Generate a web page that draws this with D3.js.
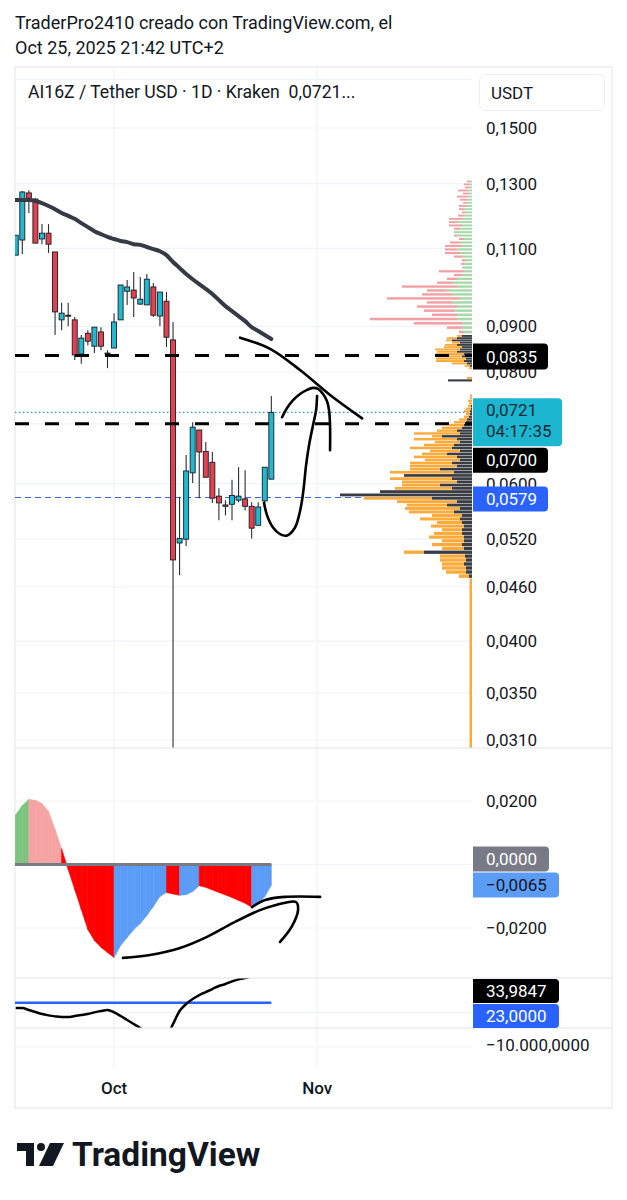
<!DOCTYPE html>
<html><head><meta charset="utf-8">
<script src="https://cdn.jsdelivr.net/npm/d3@7"></script>
<style>
body{margin:0;background:#fff;}
svg text{font-family:Roboto,"Noto Sans",sans-serif;}
</style></head><body>
<svg id="c" width="627" height="1200"></svg>
<script>
// ---------------- DATA ----------------
const dates = ["09-16","09-17","09-18","09-19","09-20","09-21","09-22","09-23","09-24","09-25",
"09-26","09-27","09-28","09-29","09-30","10-01","10-02","10-03","10-04","10-05",
"10-06","10-07","10-08","10-09","10-10","10-11","10-12","10-13","10-14","10-15",
"10-16","10-17","10-18","10-19","10-20","10-21","10-22","10-23","10-24","10-25"];
const openP  = [0.1081,0.1124,0.1269,0.1249,0.1127,0.1144,0.1090,0.0915,0.0926,0.0915,
0.0838,0.0884,0.0855,0.0887,0.0840,0.0851,0.0915,0.0985,0.0988,0.0953,
0.0951,0.0996,0.0924,0.0960,0.0869,0.0515,0.0520,0.0617,0.0689,0.0652,
0.0634,0.0581,0.0568,0.0569,0.0575,0.0577,0.0566,0.0539,0.0574,0.0607];
const highP  = [0.1138,0.1275,0.1278,0.1252,0.1171,0.1171,0.1090,0.0956,0.0956,0.0922,
0.0880,0.0891,0.0898,0.0898,0.0846,0.0931,0.1001,0.1014,0.1035,0.1022,
0.1030,0.1006,0.0983,0.0983,0.0910,0.0580,0.0646,0.0703,0.0689,0.0668,
0.0651,0.0593,0.0575,0.0606,0.0626,0.0621,0.0572,0.0572,0.0626,0.0752];
const lowP   = [0.1081,0.1084,0.1205,0.1115,0.1112,0.1087,0.0880,0.0891,0.0900,0.0825,
0.0817,0.0857,0.0840,0.0846,0.0808,0.0851,0.0915,0.0951,0.0922,0.0951,
0.0951,0.0922,0.0900,0.0853,0.0290,0.0474,0.0511,0.0601,0.0578,0.0610,
0.0571,0.0546,0.0553,0.0546,0.0572,0.0560,0.0521,0.0539,0.0570,0.0607];
const closeP = [0.1138,0.1272,0.1252,0.1115,0.1144,0.1112,0.0934,0.0931,0.0924,0.0836,
0.0873,0.0866,0.0898,0.0855,0.0838,0.0910,0.1001,0.0996,0.0968,0.0965,
0.1016,0.0926,0.0983,0.0875,0.0493,0.0521,0.0620,0.0694,0.0651,0.0610,
0.0578,0.0571,0.0566,0.0582,0.0581,0.0566,0.0535,0.0565,0.0626,0.0721];
const maLine = [0.1246,0.1246,0.1246,0.1243,0.1236,0.1227,0.1217,0.1205,0.1196,0.1187,
0.1174,0.1162,0.1150,0.1141,0.1133,0.1127,0.1121,0.1118,0.1112,0.1110,
0.1104,0.1098,0.1092,0.1081,0.1062,0.1046,0.1030,0.1016,0.1003,0.0991,
0.0978,0.0963,0.0948,0.0936,0.0924,0.0912,0.0898,0.0889,0.0880,0.0871];
const macdHist = [0.0157,0.0186,0.0205,0.0202,0.0192,0.0167,0.0110,0.0050,-0.0016,-0.0079,
-0.0142,-0.0205,-0.0239,-0.0261,-0.0277,-0.0293,-0.0255,-0.0230,-0.0205,-0.0186,
-0.0161,-0.0132,-0.0101,-0.0088,-0.0093,-0.0097,-0.0095,-0.0085,-0.0067,-0.0072,
-0.0080,-0.0088,-0.0096,-0.0104,-0.0113,-0.0122,-0.0135,-0.0123,-0.0101,-0.0065];
const oscLine = [21.4,21.4,20.8,20.2,19.6,19.2,18.9,18.7,18.7,19.0,
19.3,19.6,20.1,20.5,20.8,20.1,19.0,17.8,16.6,15.4,
14.0,13.0,12.5,13.0,16.6,20.5,22.6,24.1,25.3,26.2,
27.1,28.0,28.6,29.4,30.0,30.4,31.0,31.8,32.8,33.9847];
const oscLevel = 23;

const priceTicks = [0.17,0.15,0.13,0.11,0.09,0.08,0.07,0.06,0.052,0.046,0.04,0.035,0.031];
const hiddenPriceTicks = [0.17,0.07];
const macdTicks = [0.02,0,-0.02];
const hiddenMacdTicks = [0];
const oscTicks = [20];
const lowerTicks = [-10000];
const timeTicks = ["2025-10-01","2025-11-01"];
const timeLabels = ["Oct","Nov"];

const levelLines = [0.0835,0.0700];
const alertLevel = 0.0579;
const lastPrice = 0.0721;
const countdown = "04:17:35";
const macdLast = -0.0065;

// volume profile: value area rows (step 0.0005 from 0.047) -> [dark, orange]
const vpLowStart = 0.047, vpLowStep = 0.0005;
const vpDark = [3,6,6,8,6,7,48,8,10,8,8,10,10,8,10,12,10,18,12,25,15,40,132,92,20,32,15,20,68,18,32,15,20,12,15,25,12,20,18,12,15,30,12,15,10,8,6,5,3,2,2,1,1,0,0,0,0,0,0,0,0,0,24,0,0,0,0,0,2,5,8,6,10,8,15,12,10,15,12,20,15,10];
const vpOrange = [10,20,24,22,26,25,20,22,30,22,35,28,20,33,25,40,30,45,55,40,60,68,0,0,57,38,55,62,0,64,30,47,42,35,43,25,30,42,30,25,43,10,46,20,20,15,12,8,5,4,6,5,3,3,4,2,2,0,0,0,0,0,0,5,0,0,0,3,5,15,28,30,24,28,20,25,18,12,8,6,10,5];
// upper rows (step 0.001 from 0.088) -> [green, pink]
const vpHighStart = 0.088, vpHighStep = 0.001;
const vpGreen = [8,10,10,15,15,18,15,20,12,20,25,15,20,15,10,8,10,8,6,10,12,15,10,12,8,15,18,12,10,15,10,8,6,8,5,6,4,5,3,4,3,2,2];
const vpPink  = [5,15,48,87,25,30,40,25,73,30,20,55,15,10,8,25,0,3,4,8,15,12,17,10,5,3,0,6,13,8,13,6,4,5,8,3,8,10,6,10,4,6,3];
const vpTail = [[0.0285,0.047,2.5]];

// hand drawings: [days after Oct 1, value]
const drawResist = [[19.23,0.0874],[23.81,0.0849],[28.38,0.0804],[32.96,0.0754],[37.85,0.0710]];
const drawArc = [[25.64,0.0712],[26.40,0.0729],[27.32,0.0744],[28.38,0.0756],[29.45,0.0764],[30.37,0.0768],[31.13,0.0766],[31.89,0.0756],[32.50,0.0742],[32.81,0.0725],[32.96,0.0698],[32.96,0.0654]];
const drawLoop = [[30.98,0.0752],[30.83,0.0725],[30.37,0.0698],[29.76,0.0663],[29.30,0.0629],[28.99,0.0598],[28.69,0.0575],[28.23,0.0553],[27.62,0.0536],[26.40,0.0525],[25.33,0.0527],[24.26,0.0536],[23.35,0.0553],[22.89,0.0571]];
const drawMacdA = [[1.37,-0.0294],[5.49,-0.0285],[10.07,-0.0263],[14.19,-0.0228],[18.16,-0.0184],[21.97,-0.0146],[24.57,-0.0128],[27.77,-0.0118],[28.08,-0.0143],[27.16,-0.0194],[25.33,-0.0244]];
const drawMacdB = [[21.06,-0.0134],[23.04,-0.0112],[26.10,-0.0102],[31.44,-0.0102]];

// ---------------- LAYOUT ----------------
const svg = d3.select("#c");
const L = 15, R = 612, PR = 472, TOP = 67, BOT = 1108;
const P1 = [67,748], P2 = [748,978], P3 = [978,1028], P4 = [1028,1067];
const C = {text:"#131722", grid:"#f0f3fa", border:"#e0e3eb", up:"#22b8cf", down:"#e5404f"};

const parse = s => new Date("2025-" + s + "T00:00:00Z");
const D = dates.map(parse);
const oct1 = Date.UTC(2025,9,1);
const dayD = d => new Date(oct1 + d*86400000);

const x = d3.scaleUtc().domain([Date.UTC(2025,8,16), Date.UTC(2025,10,1)]).range([15.75, 317.2]);
const y = d3.scaleLog().domain([0.15,0.031]).range([128,740]);
const ym = d3.scaleLinear().domain([0.02,-0.02]).range([801,928]);
const yo = d3.scaleLinear().domain([23,20]).range([1002.7,1012.7]);
const yl = d3.scaleLinear().domain([0,-10000]).range([1037,1047]);

const fmt4 = v => d3.format(".4f")(v).replace(".",",").replace("-","\u2212");

// clips
const defs = svg.append("defs");
[["c1",P1],["c2",P2],["c3",P3],["c4",P4]].forEach(([id,p])=>{
  defs.append("clipPath").attr("id",id).append("rect").attr("x",L).attr("y",p[0]).attr("width",PR-L).attr("height",p[1]-p[0]);
});

// header
svg.append("text").attr("x",15).attr("y",29).attr("font-size",18).attr("fill",C.text).text("TraderPro2410 creado con TradingView.com, el");
svg.append("text").attr("x",15).attr("y",54).attr("font-size",18).attr("fill",C.text).text("Oct 25, 2025 21:42 UTC+2");

// frame
svg.append("rect").attr("x",L).attr("y",TOP).attr("width",R-L).attr("height",BOT-TOP).attr("fill","none").attr("stroke",C.border);

// vertical grid
timeTicks.forEach(t=>{
  const xv = x(new Date(t+"T00:00:00Z"));
  svg.append("line").attr("x1",xv).attr("x2",xv).attr("y1",TOP).attr("y2",P4[1]).attr("stroke",C.grid).attr("stroke-width",1.2);
});
// horizontal grids
const g1 = svg.append("g").attr("clip-path","url(#c1)");
priceTicks.forEach(t=>g1.append("line").attr("x1",L).attr("x2",PR).attr("y1",y(t)).attr("y2",y(t)).attr("stroke",C.grid).attr("stroke-width",1.2));
const g2 = svg.append("g").attr("clip-path","url(#c2)");
macdTicks.forEach(t=>g2.append("line").attr("x1",L).attr("x2",PR).attr("y1",ym(t)).attr("y2",ym(t)).attr("stroke",C.grid).attr("stroke-width",1.2));
const g3 = svg.append("g").attr("clip-path","url(#c3)");
oscTicks.forEach(t=>g3.append("line").attr("x1",L).attr("x2",PR).attr("y1",yo(t)).attr("y2",yo(t)).attr("stroke",C.grid).attr("stroke-width",1.2));
lowerTicks.forEach(t=>svg.append("line").attr("x1",L).attr("x2",PR).attr("y1",yl(t)).attr("y2",yl(t)).attr("stroke",C.grid).attr("stroke-width",1.2));

// pane dividers
[P1[1],P2[1],P3[1]].forEach(v=>svg.append("line").attr("x1",L).attr("x2",R).attr("y1",v).attr("y2",v).attr("stroke",C.border).attr("stroke-width",1.2));

// ---- price pane ----
g1.append("line").attr("x1",L).attr("x2",PR).attr("y1",y(alertLevel)).attr("y2",y(alertLevel)).attr("stroke","#3f68de").attr("stroke-width",1.2).attr("stroke-dasharray","6,4");
g1.append("line").attr("x1",L).attr("x2",PR).attr("y1",y(lastPrice)).attr("y2",y(lastPrice)).attr("stroke","#1aa7c4").attr("stroke-width",1.2).attr("stroke-dasharray","1.5,2.5");

// volume profile
const vx = d3.scaleLinear().domain([0,132]).range([0,132]);
const vpG = g1.append("g");
vpDark.forEach((dv,i)=>{
  const lo = vpLowStart + i*vpLowStep, hi = lo + vpLowStep;
  const y0 = y(hi), h = (y(lo)-y(hi))*0.85;
  if(dv>0) vpG.append("rect").attr("x",PR-vx(dv)).attr("y",y0).attr("width",vx(dv)).attr("height",h).attr("fill","#3b3d45");
  if(vpOrange[i]>0) vpG.append("rect").attr("x",PR-vx(dv)-vx(vpOrange[i])).attr("y",y0).attr("width",vx(vpOrange[i])).attr("height",h).attr("fill","#fbab3c");
});
vpGreen.forEach((gv,i)=>{
  const lo = vpHighStart + i*vpHighStep, hi = lo + vpHighStep;
  const y0 = y(hi), h = (y(lo)-y(hi))*0.6;
  if(gv>0) vpG.append("rect").attr("x",PR-vx(gv)).attr("y",y0).attr("width",vx(gv)).attr("height",h).attr("fill","#a6d8a8");
  if(vpPink[i]>0) vpG.append("rect").attr("x",PR-vx(gv)-vx(vpPink[i])).attr("y",y0).attr("width",vx(vpPink[i])).attr("height",h).attr("fill","#f2a0a6");
});
vpTail.forEach(([lo,hi,v])=>vpG.append("rect").attr("x",PR-vx(v)).attr("y",y(hi)).attr("width",vx(v)).attr("height",y(lo)-y(hi)).attr("fill","#fbab3c"));

// candles
const cg = g1.append("g");
D.forEach((d,i)=>{
  const cx = x(d);
  const up = closeP[i] >= openP[i];
  cg.append("line").attr("x1",cx).attr("x2",cx).attr("y1",y(highP[i])).attr("y2",y(lowP[i])).attr("stroke","#2a2e39").attr("stroke-width",1.1);
  const t = y(Math.max(openP[i],closeP[i])), b = y(Math.min(openP[i],closeP[i]));
  cg.append("rect").attr("x",cx-2.5).attr("y",t).attr("width",5).attr("height",Math.max(1,b-t))
    .attr("fill",up?C.up:C.down).attr("stroke","#1b1d24").attr("stroke-width",0.9);
});

// level dashed lines
levelLines.forEach(v=>g1.append("line").attr("x1",L).attr("x2",PR).attr("y1",y(v)).attr("y2",y(v)).attr("stroke","#000").attr("stroke-width",3).attr("stroke-dasharray","14,16"));

// MA
g1.append("path").datum(maLine).attr("fill","none").attr("stroke","#363a45").attr("stroke-width",4).attr("stroke-linecap","round")
  .attr("d",d3.line().x((v,i)=>x(D[i])).y(v=>y(v)).curve(d3.curveMonotoneX));

// drawings (price pane)
const dl = d3.line().x(p=>x(dayD(p[0]))).y(p=>y(p[1])).curve(d3.curveCatmullRom);
[drawResist,drawArc,drawLoop].forEach(arr=>g1.append("path").datum(arr).attr("fill","none").attr("stroke","#000").attr("stroke-width",2.6).attr("stroke-linecap","round").attr("d",dl));

// ---- MACD pane ----
const colorOf = i => {
  const v = macdHist[i], p = i>0 ? macdHist[i-1] : -1;
  if(v>=0) return v>=p ? "#7cc47f" : "#f6a3a3";
  return v<p ? "#ff0000" : "#5b9cf6";
};
for(let i=1;i<macdHist.length;i++){
  const x0 = x(D[i-1]), x1 = x(D[i]);
  g2.append("path").attr("fill",colorOf(i)).attr("stroke",colorOf(i)).attr("stroke-width",0.6)
    .attr("d",`M${x0},${ym(0)}L${x0},${ym(macdHist[i-1])}L${x1},${ym(macdHist[i])}L${x1},${ym(0)}Z`);
}
g2.append("path").attr("fill",colorOf(1)).attr("d",`M${L},${ym(0)}L${L},${ym(macdHist[0])}L${x(D[0])},${ym(macdHist[0])}L${x(D[0])},${ym(0)}Z`);
g2.append("line").attr("x1",L).attr("x2",x(D[D.length-1])).attr("y1",ym(0)).attr("y2",ym(0)).attr("stroke","#787b86").attr("stroke-width",3);
const dm = d3.line().x(p=>x(dayD(p[0]))).y(p=>ym(p[1])).curve(d3.curveCatmullRom);
[drawMacdA,drawMacdB].forEach(arr=>g2.append("path").datum(arr).attr("fill","none").attr("stroke","#000").attr("stroke-width",2.6).attr("stroke-linecap","round").attr("d",dm));

// ---- osc pane ----
g3.append("line").attr("x1",L).attr("x2",x(D[D.length-1])).attr("y1",yo(oscLevel)).attr("y2",yo(oscLevel)).attr("stroke","#2962ff").attr("stroke-width",2.5);
g3.append("path").datum(oscLine).attr("fill","none").attr("stroke","#000").attr("stroke-width",2.5)
  .attr("d",d3.line().x((v,i)=>x(D[i])).y(v=>yo(v)).curve(d3.curveMonotoneX));

// ---- axes labels ----
const AX = 486;
priceTicks.filter(t=>!hiddenPriceTicks.includes(t)).forEach(t=>svg.append("text").attr("x",AX).attr("y",y(t)).attr("dy","0.36em").attr("font-size",17).attr("fill",C.text).text(fmt4(t)));
macdTicks.filter(t=>!hiddenMacdTicks.includes(t)).forEach(t=>svg.append("text").attr("x",AX).attr("y",ym(t)).attr("dy","0.36em").attr("font-size",17).attr("fill",C.text).text(fmt4(t)));
lowerTicks.forEach(t=>svg.append("text").attr("x",AX).attr("y",yl(t)-2).attr("dy","0.36em").attr("font-size",17).attr("fill",C.text).text("\u221210.000,0000"));

function tag(y0,h,w,fill,lines,tc){
  const g = svg.append("g");
  g.append("path").attr("fill",fill).attr("d",`M473,${y0}H${473+w-4}Q${473+w},${y0} ${473+w},${y0+4}V${y0+h-4}Q${473+w},${y0+h} ${473+w-4},${y0+h}H473Z`);
  lines.forEach((s,k)=>g.append("text").attr("x",AX).attr("y",y0+ (lines.length===1? h/2 : 12+k*21)).attr("dy","0.36em").attr("font-size",17).attr("fill",tc).text(s));
}
tag(y(levelLines[0])-12,26,75,"#000",[fmt4(levelLines[0])],"#fff");
tag(y(lastPrice)-14,48,89,"#1cb6d1",[fmt4(lastPrice),countdown],"#0f2a33");
tag(y(levelLines[1])+24,25,75,"#000",[fmt4(levelLines[1])],"#fff");
tag(y(alertLevel)-11,25,75,"#2962ff",[fmt4(alertLevel)],"#fff");
tag(ym(0)-18,25,76,"#787b86",[fmt4(0)],"#fff");
tag(ym(0)+8,25,86,"#5b9cf6",[fmt4(macdLast)],"#131722");
tag(979,24,86,"#000",[d3.format(".4f")(oscLine[oscLine.length-1]).replace(".",",")],"#fff");
tag(1004,24,86,"#2962ff",[d3.format(".4f")(oscLevel).replace(".",",")],"#fff");

// USDT box
svg.append("rect").attr("x",479.5).attr("y",74.5).attr("width",125).attr("height",36).attr("rx",6).attr("fill","#fff").attr("stroke","#edeff3");
svg.append("text").attr("x",491).attr("y",93).attr("dy","0.36em").attr("font-size",17).attr("fill",C.text).text("USDT");

// legend
svg.append("text").attr("x",28).attr("y",92).attr("dy","0.36em").attr("font-size",17.6).attr("fill",C.text).text("AI16Z / Tether USD \u00b7 1D \u00b7 Kraken\u00a0\u00a00,0721...");

// time labels
timeTicks.forEach((t,k)=>svg.append("text").attr("x",x(new Date(t+"T00:00:00Z"))).attr("y",1088).attr("dy","0.36em").attr("text-anchor","middle").attr("font-size",17).attr("font-weight",500).attr("fill",C.text).text(timeLabels[k]));

// logo
const lg = svg.append("g").attr("transform","translate(17,1143)").attr("fill","#131722");
lg.append("path").attr("d","M0,0H17V23H9V8H0Z");
lg.append("circle").attr("cx",24).attr("cy",4).attr("r",4);
lg.append("path").attr("d","M33,0H47L36,23H22Z");
svg.append("text").attr("x",72).attr("y",1166).attr("font-size",33.5).attr("font-weight",700).attr("fill","#131722").text("TradingView");
</script>
</body></html>
